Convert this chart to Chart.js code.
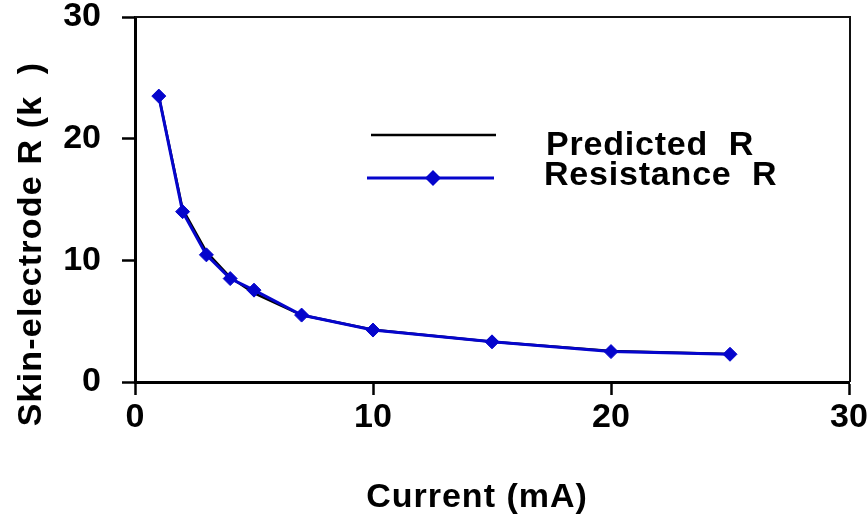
<!DOCTYPE html>
<html>
<head>
<meta charset="utf-8">
<script src="https://cdn.jsdelivr.net/npm/chart.js@4/dist/chart.umd.min.js"></script>
<style>
  html, body { margin: 0; padding: 0; background: #fff; }
  #wrap { width: 868px; height: 520px; position: relative; }
</style>
</head>
<body>
<div id="wrap"><canvas id="chart" width="868" height="520"></canvas></div>
<script>
// data
const currents = [1, 2, 3, 4, 5, 7, 10, 15, 20, 25];            // mA
const measuredR = [23.5, 14.0, 10.45, 8.5, 7.55, 5.5, 4.27, 3.3, 2.5, 2.28];  // kOhm
const predictedR = [23.5, 14.2, 10.7, 8.6, 7.3, 5.5, 4.3, 3.3, 2.55, 2.3];
const xTicks = [0, 10, 20, 30];
const yTicks = [0, 10, 20, 30];
const seriesNames = ['Predicted  R', 'Resistance  R'];
const xTitle = 'Current (mA)';
const yTitle = 'Skin-electrode R (k  )';

const blue = '#0505cc';
const fontFamily = "'Liberation Sans', Arial, Helvetica, sans-serif";

function toPoints(xs, ys) {
    return xs.map((x, i) => ({ x: x, y: ys[i] }));
}

// box, axis titles and legend drawn on the canvas
const framePlugin = {
    id: 'frame',
    afterDraw(chart) {
        const ctx = chart.ctx;
        const a = chart.chartArea;
        ctx.save();

        // top and right sides of the frame
        ctx.strokeStyle = '#111';
        ctx.lineWidth = 2;
        ctx.beginPath();
        ctx.moveTo(a.left, a.top);
        ctx.lineTo(a.right + 1, a.top);
        ctx.lineTo(a.right + 1, a.bottom);
        ctx.stroke();

        ctx.fillStyle = '#000';
        ctx.font = 'bold 34px ' + fontFamily;
        ctx.textBaseline = 'alphabetic';
        ctx.textAlign = 'center';
        ctx.letterSpacing = '1px';
        ctx.fillText(xTitle, 477, 507);

        ctx.save();
        ctx.translate(41, 244);
        ctx.rotate(-Math.PI / 2);
        ctx.letterSpacing = '1.2px';
        ctx.fillText(yTitle, 0, 0);
        ctx.restore();

        // legend
        ctx.lineCap = 'butt';
        ctx.strokeStyle = '#000';
        ctx.lineWidth = 2.5;
        ctx.beginPath();
        ctx.moveTo(371, 135);
        ctx.lineTo(496, 135);
        ctx.stroke();

        ctx.strokeStyle = blue;
        ctx.lineWidth = 3;
        ctx.beginPath();
        ctx.moveTo(367, 178);
        ctx.lineTo(494, 178);
        ctx.stroke();

        ctx.fillStyle = blue;
        ctx.beginPath();
        ctx.moveTo(433, 170);
        ctx.lineTo(441, 178);
        ctx.lineTo(433, 186);
        ctx.lineTo(425, 178);
        ctx.closePath();
        ctx.fill();

        ctx.fillStyle = '#000';
        ctx.textAlign = 'left';
        ctx.font = 'bold 34px ' + fontFamily;
        ctx.letterSpacing = '0.8px';
        ctx.fillText(seriesNames[0], 546, 155);
        ctx.fillText(seriesNames[1], 544, 185);

        ctx.restore();
    }
};

const tickFont = { family: fontFamily, size: 34, weight: 'bold' };

new Chart(document.getElementById('chart'), {
    type: 'line',
    data: {
        datasets: [
            {
                label: seriesNames[0],
                data: toPoints(currents, predictedR),
                borderColor: '#000',
                borderWidth: 2.5,
                pointRadius: 0,
                tension: 0,
                order: 2
            },
            {
                label: seriesNames[1],
                data: toPoints(currents, measuredR),
                borderColor: blue,
                backgroundColor: blue,
                borderWidth: 3,
                pointStyle: 'rectRot',
                pointRadius: 7,
                pointBorderWidth: 1,
                pointBackgroundColor: blue,
                pointBorderColor: blue,
                tension: 0,
                order: 1
            }
        ]
    },
    options: {
        responsive: false,
        animation: false,
        layout: { padding: { top: 17, right: 19, left: 0, bottom: 0 } },
        plugins: {
            legend: { display: false },
            tooltip: { enabled: false }
        },
        scales: {
            x: {
                type: 'linear',
                min: 0,
                max: 30,
                afterBuildTicks: s => { s.ticks = xTicks.map(v => ({ value: v })); },
                afterFit: s => { s.height = 138; s.paddingLeft = 0; s.paddingRight = 0; },
                ticks: { color: '#000', font: tickFont, padding: 2, maxRotation: 0 },
                grid: { drawOnChartArea: false, drawTicks: true, tickLength: 13, tickWidth: 2.5, tickColor: '#000' },
                border: { display: true, color: '#000', width: 3 },
                title: { display: false }
            },
            y: {
                type: 'linear',
                min: 0,
                max: 30,
                afterBuildTicks: s => { s.ticks = yTicks.map(v => ({ value: v })); },
                afterFit: s => { s.width = 135; s.paddingTop = 0; s.paddingBottom = 0; },
                ticks: { color: '#000', font: tickFont, padding: 21 },
                grid: { drawOnChartArea: false, drawTicks: true, tickLength: 13, tickWidth: 2.5, tickColor: '#000' },
                border: { display: true, color: '#000', width: 3 },
                title: { display: false }
            }
        }
    },
    plugins: [framePlugin]
});
</script>
</body>
</html>
